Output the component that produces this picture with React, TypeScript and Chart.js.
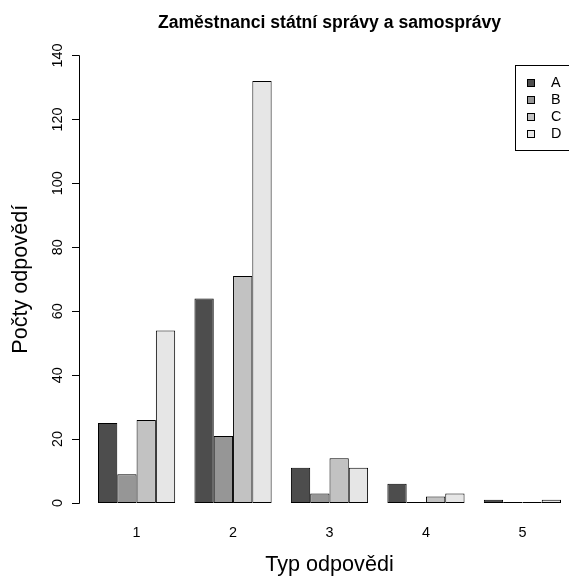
import React, { useEffect, useRef } from "react";
import { Chart, registerables } from "chart.js";

Chart.register(...registerables);

// ---- data ----
const categories = ["1", "2", "3", "4", "5"];
const seriesNames = ["A", "B", "C", "D"];
const seriesA = [25, 64, 11, 6, 1];
const seriesB = [9, 21, 3, 0, 0];
const seriesC = [26, 71, 14, 2, 0];
const seriesD = [54, 132, 11, 3, 1];
const seriesColors = ["#4D4D4D", "#969696", "#C2C2C2", "#E6E6E6"];
const yTicks = [0, 20, 40, 60, 80, 100, 120, 140];
const titleText = "Zaměstnanci státní správy a samosprávy";
const xTitleText = "Typ odpovědi";
const yTitleText = "Počty odpovědí";

const FONT = '"Liberation Sans", Arial, Helvetica, sans-serif';

const rStylePlugin = {
  id: "rStyle",
  afterDraw(chart: any) {
    const ctx = chart.ctx as CanvasRenderingContext2D;
    const xs = chart.scales.x;
    const ys = chart.scales.y;
    const axisX = 79.5;
    const plotCenterX = 329.5;
    const plotCenterY = (ys.getPixelForValue(yTicks[0]) + ys.getPixelForValue(yTicks[yTicks.length - 1])) / 2;
    ctx.save();
    ctx.strokeStyle = "#000";
    ctx.fillStyle = "#000";
    ctx.lineWidth = 1;

    // y axis line + ticks
    const crisp = (v: number) => Math.floor(v) + 0.5;
    ctx.beginPath();
    ctx.moveTo(axisX, crisp(ys.getPixelForValue(yTicks[0])));
    ctx.lineTo(axisX, crisp(ys.getPixelForValue(yTicks[yTicks.length - 1])));
    yTicks.forEach((t) => {
      const py = crisp(ys.getPixelForValue(t));
      ctx.moveTo(72, py);
      ctx.lineTo(axisX, py);
    });
    ctx.stroke();

    // y tick labels (rotated, parallel to axis)
    ctx.font = `14.4px ${FONT}`;
    ctx.textAlign = "center";
    ctx.textBaseline = "alphabetic";
    yTicks.forEach((t) => {
      const py = ys.getPixelForValue(t);
      ctx.save();
      ctx.translate(61.5, py);
      ctx.rotate(-Math.PI / 2);
      ctx.fillText(String(t), 0, 0);
      ctx.restore();
    });

    // x category labels
    categories.forEach((c, i) => {
      ctx.fillText(c, xs.getPixelForValue(i), 537);
    });

    // axis titles
    ctx.font = `21.6px ${FONT}`;
    ctx.fillText(xTitleText, plotCenterX, 571);
    ctx.save();
    ctx.translate(27, plotCenterY);
    ctx.rotate(-Math.PI / 2);
    ctx.fillText(yTitleText, 0, 0);
    ctx.restore();

    // main title
    ctx.font = `bold 17.6px ${FONT}`;
    ctx.fillText(titleText, plotCenterX, 28);

    // legend
    const boxL = 515.5;
    const boxT = 65.5;
    ctx.strokeRect(boxL, boxT, 100, 85);
    ctx.font = `14.4px ${FONT}`;
    ctx.textAlign = "left";
    ctx.textBaseline = "middle";
    seriesNames.forEach((name, i) => {
      const cy = 83 + i * 16.9;
      ctx.fillStyle = seriesColors[i];
      ctx.fillRect(527, Math.round(cy - 4), 8, 8);
      ctx.strokeStyle = "#000";
      ctx.strokeRect(527.5, Math.round(cy - 4) + 0.5, 7, 7);
      ctx.fillStyle = "#000";
      ctx.fillText(name, 551, cy + 0.5);
    });
    ctx.restore();
  },
};

export default function App() {
  const canvasRef = useRef<HTMLCanvasElement | null>(null);

  useEffect(() => {
    if (!canvasRef.current) return;
    const seriesValues = [seriesA, seriesB, seriesC, seriesD];
    const chart = new Chart(canvasRef.current, {
      type: "bar",
      data: {
        labels: categories,
        datasets: seriesNames.map((name, i) => ({
          label: name,
          data: seriesValues[i],
          backgroundColor: seriesColors[i],
          borderColor: "#000000",
          borderWidth: 1,
          borderSkipped: false,
          barPercentage: 1,
          categoryPercentage: 0.8,
          minBarLength: 1,
        })),
      },
      options: {
        responsive: false,
        animation: false,
        events: [],
        layout: {
          padding: { left: 88.35, right: 29.35, top: 55.5, bottom: 76 },
        },
        plugins: {
          legend: { display: false },
          title: { display: false },
          tooltip: { enabled: false },
        },
        scales: {
          x: { type: "category", display: false, offset: true },
          y: { type: "linear", display: false, min: 0, max: 140 },
        },
      },
      plugins: [rStylePlugin],
    });
    return () => chart.destroy();
  }, []);

  return (
    <div
      style={{
        position: "fixed",
        left: 0,
        top: 0,
        width: 569,
        height: 579,
        overflow: "hidden",
        background: "#fff",
      }}
    >
      <canvas ref={canvasRef} width={600} height={579} style={{ display: "block" }} />
    </div>
  );
}
